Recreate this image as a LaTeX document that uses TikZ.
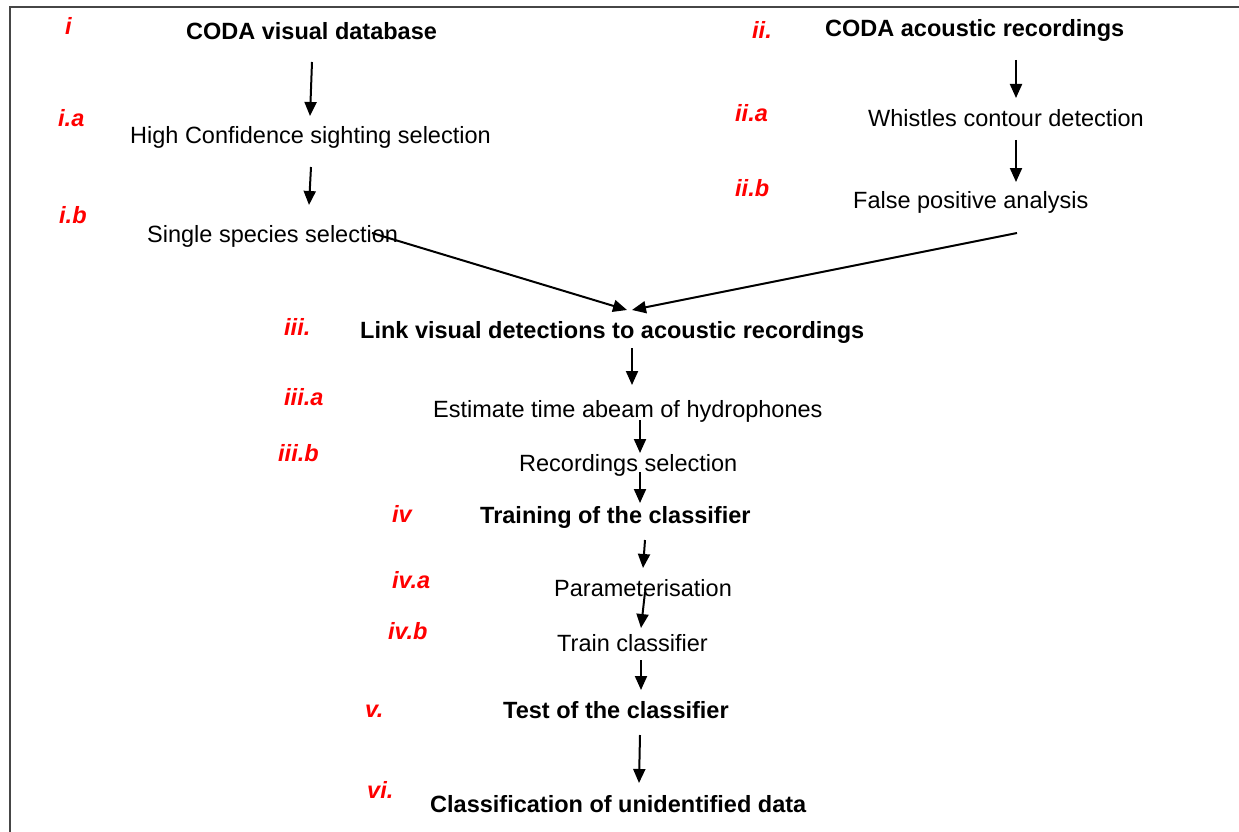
\documentclass[tikz,border=0pt]{standalone}
\usepackage{fontspec}
\setmainfont{Liberation Sans}
\usetikzlibrary{arrows.meta}
\definecolor{lblred}{RGB}{255,0,0}
\definecolor{frame}{RGB}{70,70,70}
\tikzset{
  txt/.style={anchor=base west, inner sep=0pt, font=\fontsize{23.5}{28}\selectfont},
  head/.style={txt, font=\fontsize{23.5}{28}\selectfont\bfseries},
  lbl/.style={txt, text=lblred, font=\fontsize{23.5}{28}\selectfont\bfseries\itshape},
  arr/.style={line width=2pt, -{Triangle[width=12pt,length=14pt]}},
  frameline/.style={draw=frame, line width=2pt}
}
\begin{document}
\begin{tikzpicture}[x=1pt,y=-1pt]
\useasboundingbox (0,0) rectangle (1239,832);
\fill[white] (0,0) rectangle (1239,832);
\draw[frameline] (10,832) -- (10,7) -- (1239,7);

% labels
\node[lbl] (li) at (65,35) {i};
\node[lbl] (lia) at (58,127) {i.a};
\node[lbl] (lib) at (59,223) {i.b};
\node[lbl] (lii) at (752,39) {ii.};
\node[lbl] (liia) at (735,122) {ii.a};
\node[lbl] (liib) at (735,196) {ii.b};
\node[lbl] (liii) at (284,335) {iii.};
\node[lbl] (liiia) at (284,405) {iii.a};
\node[lbl] (liiib) at (278,461) {iii.b};
\node[lbl] (liv) at (392,522) {iv};
\node[lbl] (liva) at (392,588) {iv.a};
\node[lbl] (livb) at (388,639) {iv.b};
\node[lbl] (lv) at (365,717) {v.};
\node[lbl] (lvi) at (367,798) {vi.};

% texts
\node[head] (visual) at (186,40) {CODA visual database};
\node[txt] (highconf) at (130,143) {High Confidence sighting selection};
\node[txt] (single) at (147,242) {Single species selection};
\node[head] (acoustic) at (825,37) {CODA acoustic recordings};
\node[txt] (whistles) at (868,127) {Whistles contour detection};
\node[txt] (falsepos) at (853,208) {False positive analysis};
\node[head] (link) at (360,338) {Link visual detections to acoustic recordings};
\node[txt] (estimate) at (433,417) {Estimate time abeam of hydrophones};
\node[txt] (recsel) at (519,471) {Recordings selection};
\node[head] (training) at (480,523) {Training of the classifier};
\node[txt] (param) at (554,596) {Parameterisation};
\node[txt] (train) at (557,651) {Train classifier};
\node[head] (test) at (503,718) {Test of the classifier};
\node[head] (classif) at (430,812) {Classification of unidentified data};

% arrow end points
\coordinate (a1s) at (312,62);  \coordinate (a1e) at (310,116);
\coordinate (a2s) at (311,167); \coordinate (a2e) at (309,205);
\coordinate (a3s) at (1016,60); \coordinate (a3e) at (1016,98);
\coordinate (a4s) at (1016,140);\coordinate (a4e) at (1016,182);
\coordinate (a5s) at (372,233); \coordinate (a5e) at (627,310);
\coordinate (a6s) at (1017,233);\coordinate (a6e) at (632,310);
\coordinate (a7s) at (632,348); \coordinate (a7e) at (632,385);
\coordinate (a8s) at (640,420); \coordinate (a8e) at (640,453);
\coordinate (a9s) at (640,472); \coordinate (a9e) at (640,503);
\coordinate (a10s) at (645,540);\coordinate (a10e) at (643,568);
\coordinate (a11s) at (645,592);\coordinate (a11e) at (641,628);
\coordinate (a12s) at (641,660);\coordinate (a12e) at (641,690);
\coordinate (a13s) at (640,735);\coordinate (a13e) at (639,783);

\draw[arr] (a1s) -- (a1e);
\draw[arr] (a2s) -- (a2e);
\draw[arr] (a3s) -- (a3e);
\draw[arr] (a4s) -- (a4e);
\draw[arr] (a5s) -- (a5e);
\draw[arr] (a6s) -- (a6e);
\draw[arr] (a7s) -- (a7e);
\draw[arr] (a8s) -- (a8e);
\draw[arr] (a9s) -- (a9e);
\draw[arr] (a10s) -- (a10e);
\draw[arr] (a11s) -- (a11e);
\draw[arr] (a12s) -- (a12e);
\draw[arr] (a13s) -- (a13e);
\end{tikzpicture}
\end{document}
